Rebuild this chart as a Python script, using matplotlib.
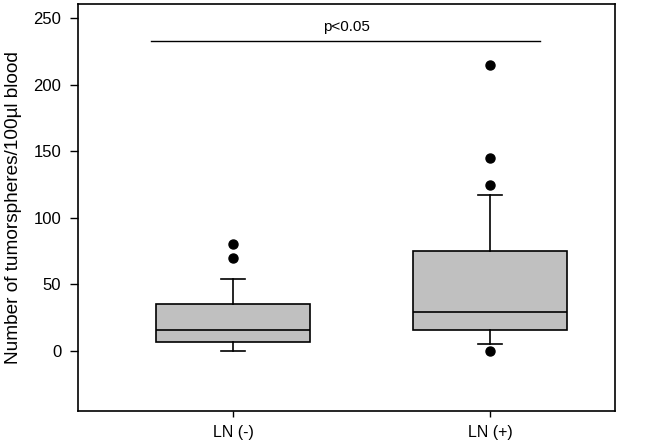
import matplotlib
matplotlib.use('Agg')
import matplotlib.pyplot as plt

plt.rcParams['font.family'] = ['Liberation Sans', 'DejaVu Sans']

groups = ['LN (-)', 'LN (+)']
q1 = [7, 15.5]
medians = [15.5, 29.5]
q3 = [35, 75]
whisker_low = [0, 5.5]
whisker_high = [54, 117]
outliers = [[70, 80], [0, 125, 145, 215]]

stats = []
for i, name in enumerate(groups):
    stats.append({'label': name, 'q1': q1[i], 'med': medians[i], 'q3': q3[i],
                  'whislo': whisker_low[i], 'whishi': whisker_high[i],
                  'fliers': outliers[i]})

fig = plt.figure(figsize=(6.5, 4.47), dpi=100)
ax = fig.add_axes([0.12, 0.0805, 0.826, 0.9105])

ax.bxp(stats, positions=[1, 2], widths=0.6, patch_artist=True, capwidths=0.09,
       boxprops=dict(facecolor='#c0c0c0', edgecolor='black', linewidth=1.2),
       medianprops=dict(color='black', linewidth=1.2),
       whiskerprops=dict(color='black', linewidth=1.2),
       capprops=dict(color='black', linewidth=1.2),
       flierprops=dict(marker='o', markerfacecolor='black', markeredgecolor='black', markersize=6.5))

# significance bar
ax.plot([0.68, 2.195], [233, 233], color='black', lw=1)
ax.text(1.44, 238, 'p<0.05', ha='center', va='bottom', fontsize=11)

ax.set_xlim(0.397, 2.486)
ax.set_ylim(-45, 260.5)
ax.set_yticks([0, 50, 100, 150, 200, 250])
ax.set_xticks([1, 2])
ax.set_xticklabels(groups, fontsize=11.5)
ax.tick_params(axis='y', labelsize=12, length=6, width=1, pad=6)
ax.tick_params(axis='x', length=4, width=1, pad=6)
ax.set_ylabel('Number of tumorspheres/100\u00b5l blood', fontsize=13.7, labelpad=8)
for s in ax.spines.values():
    s.set_linewidth(1.2)

fig.savefig('out.png', dpi=100)
